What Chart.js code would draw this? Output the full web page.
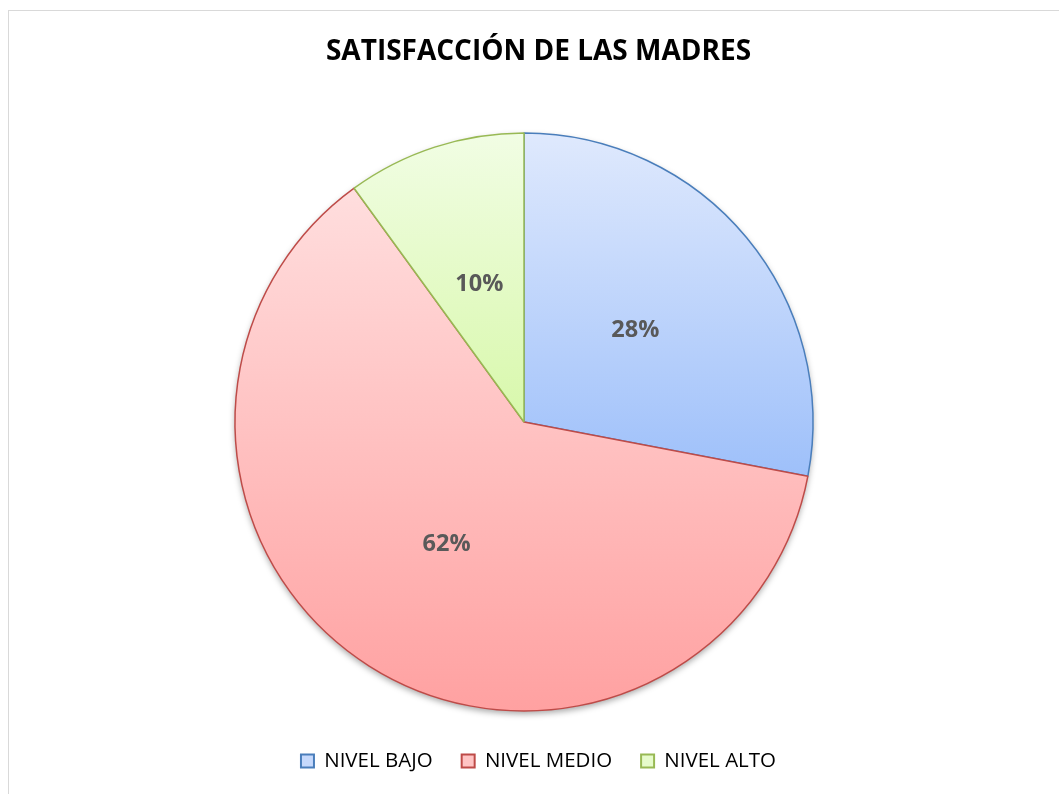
<!DOCTYPE html>
<html lang="es">
<head>
    <meta charset="UTF-8">
    <title>Satisfacción de las madres</title>
    <script src="https://cdn.jsdelivr.net/npm/chart.js"></script>
    <style>
        html, body { margin: 0; padding: 0; background: #ffffff; overflow: hidden; }
        .frame {
            position: absolute;
            left: 8px;
            top: 10px;
            width: 1100px;
            height: 850px;
            border: 1px solid #d9d9d9;
            box-sizing: border-box;
        }
        .frame canvas { position: absolute; left: 0; top: 0; }
    </style>
</head>
<body>
    <div class="frame">
        <canvas id="pieChart" width="1059" height="784"></canvas>
    </div>

    <script>
        const categories = ['NIVEL BAJO', 'NIVEL MEDIO', 'NIVEL ALTO'];
        const percentages = [28, 62, 10];

        const borderColors = ['#4a7ebb', '#be4b48', '#98b954'];
        const gradientTop = ['#dfe9fd', '#ffdede', '#f1fde4'];
        const gradientBottom = ['#9ec0fa', '#ffa1a1', '#d8f8ab'];
        const legendFill = ['#c6d9fc', '#ffc4c4', '#e6fbcb'];

        const PIE_RADIUS = 289;
        const PIE_SHIFT_X = -14.5; // pie sits a bit left of the title/legend centre

        // vertical gradient over each slice's own bounding box (like the Office fill)
        function sliceGradient(context) {
            const chart = context.chart;
            const area = chart.chartArea;
            const i = context.dataIndex;
            if (!area) return legendFill[i];
            const vals = context.dataset.data;
            const total = vals.reduce((a, b) => a + b, 0);
            let before = 0;
            for (let k = 0; k < i; k++) before += vals[k];
            const a0 = -Math.PI / 2 + 2 * Math.PI * before / total;
            const a1 = a0 + 2 * Math.PI * vals[i] / total;
            const ys = [0, Math.sin(a0), Math.sin(a1)];
            [-Math.PI / 2, Math.PI / 2, 3 * Math.PI / 2].forEach(e => {
                if (e >= a0 && e <= a1) ys.push(Math.sin(e));
            });
            const cy = (area.top + area.bottom) / 2;
            const y0 = cy + PIE_RADIUS * Math.min(...ys);
            const y1 = cy + PIE_RADIUS * Math.max(...ys);
            const g = chart.ctx.createLinearGradient(0, y0, 0, y1);
            g.addColorStop(0, gradientTop[i]);
            g.addColorStop(1, gradientBottom[i]);
            return g;
        }

        const shiftPlugin = {
            id: 'shiftPie',
            afterLayout(chart) {
                chart.chartArea.left += PIE_SHIFT_X;
                chart.chartArea.right += PIE_SHIFT_X;
            }
        };

        const shadowPlugin = {
            id: 'pieShadow',
            beforeDatasetsDraw(chart) {
                const arc = chart.getDatasetMeta(0).data[0];
                if (!arc) return;
                const ctx = chart.ctx;
                ctx.save();
                ctx.shadowColor = 'rgba(0, 0, 0, 0.35)';
                ctx.shadowBlur = 6;
                ctx.shadowOffsetY = 3;
                ctx.fillStyle = '#ffffff';
                ctx.beginPath();
                ctx.arc(arc.x, arc.y, arc.outerRadius, 0, Math.PI * 2);
                ctx.fill();
                ctx.restore();
            }
        };

        const labelPlugin = {
            id: 'sliceLabels',
            afterDatasetsDraw(chart) {
                const ctx = chart.ctx;
                ctx.save();
                ctx.font = 'bold 23.5px "Open Sans", sans-serif';
                ctx.fillStyle = '#595959';
                ctx.textAlign = 'center';
                ctx.textBaseline = 'middle';
                chart.getDatasetMeta(0).data.forEach((arc, i) => {
                    const p = arc.tooltipPosition();
                    ctx.fillText(percentages[i] + '%', p.x, p.y);
                });
                ctx.restore();
            }
        };

        new Chart(document.getElementById('pieChart'), {
            type: 'pie',
            data: {
                labels: categories,
                datasets: [{
                    data: percentages,
                    backgroundColor: sliceGradient,
                    borderColor: borderColors,
                    borderWidth: 1.5
                }]
            },
            options: {
                responsive: false,
                animation: false,
                radius: PIE_RADIUS,
                layout: { padding: { top: 10, bottom: 13.75, left: 0, right: 0 } },
                plugins: {
                    tooltip: { enabled: false },
                    title: {
                        display: true,
                        text: 'SATISFACCIÓN DE LAS MADRES',
                        color: '#000000',
                        font: { family: '"Open Sans", sans-serif', size: 28, weight: 'bold' },
                        padding: { top: 14, bottom: 53.65 }
                    },
                    legend: {
                        position: 'bottom',
                        labels: {
                            color: '#7a7a7a',
                            font: { family: '"Open Sans", sans-serif', size: 20.5 },
                            boxWidth: 13,
                            boxHeight: 13,
                            padding: 29,
                            generateLabels: () => categories.map((c, i) => ({
                                text: c,
                                fillStyle: legendFill[i],
                                strokeStyle: borderColors[i],
                                lineWidth: 2,
                                hidden: false,
                                index: i
                            }))
                        }
                    }
                }
            },
            plugins: [shiftPlugin, shadowPlugin, labelPlugin]
        });
    </script>
</body>
</html>
